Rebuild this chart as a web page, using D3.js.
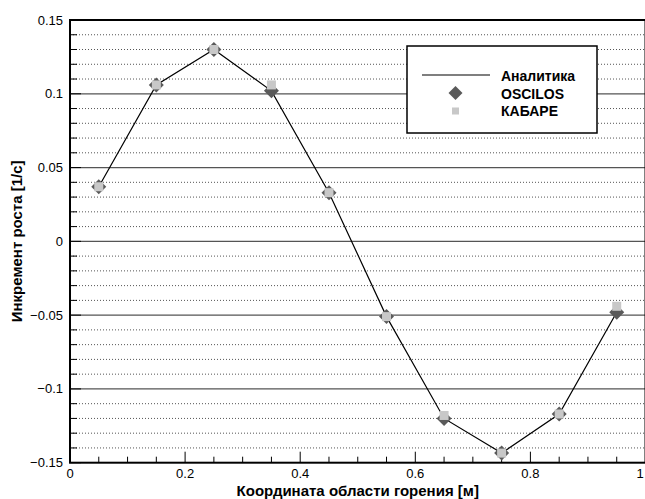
<!DOCTYPE html>
<html>
<head>
<meta charset="utf-8">
<script src="https://cdn.jsdelivr.net/npm/d3@7"></script>
<style>
  html, body { margin: 0; padding: 0; background: #fff; }
  svg { display: block; font-family: "Liberation Sans", Arial, sans-serif; }
</style>
</head>
<body>
<svg id="chart" width="645" height="499"></svg>
<script>
// ---- data ----
const xValues = [0.05, 0.15, 0.25, 0.35, 0.45, 0.55, 0.65, 0.75, 0.85, 0.95];
const analytic = [0.037, 0.106, 0.130, 0.102, 0.033, -0.051, -0.120, -0.1435, -0.117, -0.048];
const oscilos  = [0.037, 0.106, 0.130, 0.102, 0.033, -0.051, -0.120, -0.1435, -0.117, -0.048];
const kabare   = [0.037, 0.106, 0.130, 0.106, 0.033, -0.051, -0.118, -0.1435, -0.117, -0.044];
const yTickLabels = [-0.15, -0.1, -0.05, 0, 0.05, 0.1, 0.15];
const xTickLabels = [0, 0.2, 0.4, 0.6, 0.8, 1];
const legendNames = ["Аналитика", "OSCILOS", "КАБАРЕ"];
const xTitle = "Координата области горения [м]";
const yTitle = "Инкремент роста [1/с]";

const svg = d3.select("#chart");
const L = 70, R = 645.5, T = 20, B = 462.7;
const x = d3.scaleLinear().domain([0, 1]).range([L, R]);
const y = d3.scaleLinear().domain([-0.15, 0.15]).range([B, T]);

// minor dotted grid every 0.01
const minor = d3.range(-15, 16).map(i => i / 100).filter(v => Math.abs(Math.round(v * 100) % 5) !== 0);
svg.append("g").selectAll("line").data(minor).join("line")
  .attr("x1", L).attr("x2", R)
  .attr("y1", d => y(d)).attr("y2", d => y(d))
  .attr("stroke", "#555").attr("stroke-width", 1).attr("stroke-dasharray", "1,2");

// major grid lines at 0.05
const majorGrid = yTickLabels.filter(v => v > -0.15 && v < 0.15);
svg.append("g").selectAll("line").data(majorGrid).join("line")
  .attr("x1", L).attr("x2", R)
  .attr("y1", d => y(d)).attr("y2", d => y(d))
  .attr("stroke", "#555").attr("stroke-width", 1.3);

// frame
svg.append("rect").attr("x", L).attr("y", T).attr("width", R - L).attr("height", B - T)
  .attr("fill", "none").attr("stroke", "#000").attr("stroke-width", 2);

// y ticks (inward)
const yMinorTicks = d3.range(-15, 16).map(i => i / 100);
svg.append("g").selectAll("line").data(yMinorTicks).join("line")
  .attr("x1", L).attr("x2", d => L + (Math.abs(Math.round(d * 100)) % 5 === 0 ? 11 : 7))
  .attr("y1", d => y(d)).attr("y2", d => y(d))
  .attr("stroke", "#000").attr("stroke-width", 1);

// x ticks (inward)
const xMinorTicks = d3.range(0, 21).map(i => i / 20);
svg.append("g").selectAll("line").data(xMinorTicks).join("line")
  .attr("x1", d => x(d)).attr("x2", d => x(d))
  .attr("y1", B).attr("y2", d => B - (Math.round(d * 20) % 4 === 0 ? 11 : 6))
  .attr("stroke", "#000").attr("stroke-width", 1);

// tick labels
svg.append("g").selectAll("text").data(yTickLabels).join("text")
  .attr("x", L - 7).attr("y", d => y(d)).attr("dy", "0.35em")
  .attr("text-anchor", "end").attr("font-size", 13).attr("fill", "#000")
  .text(d => d3.format("")(d));
svg.append("g").selectAll("text").data(xTickLabels).join("text")
  .attr("x", d => Math.min(x(d), 640)).attr("y", B + 15)
  .attr("text-anchor", "middle").attr("font-size", 13).attr("fill", "#000")
  .text(d => d3.format("")(d));

// axis titles
svg.append("text").attr("x", (L + R) / 2).attr("y", 496)
  .attr("text-anchor", "middle").attr("font-size", 15).attr("font-weight", "bold")
  .text(xTitle);
svg.append("text").attr("transform", `translate(22, ${(T + B) / 2}) rotate(-90)`)
  .attr("text-anchor", "middle").attr("font-size", 15).attr("font-weight", "bold")
  .text(yTitle);

// analytic line
const line = d3.line().x((d, i) => x(xValues[i])).y(d => y(d));
svg.append("path").datum(analytic).attr("d", line)
  .attr("fill", "none").attr("stroke", "#000").attr("stroke-width", 1.2);

// OSCILOS diamonds
const diamond = "M0,-7.5L7.5,0L0,7.5L-7.5,0Z";
svg.append("g").selectAll("path").data(oscilos).join("path")
  .attr("transform", (d, i) => `translate(${x(xValues[i])},${y(d)})`)
  .attr("d", diamond).attr("fill", "#5a5a5a");

// KABARE squares
svg.append("g").selectAll("rect").data(kabare).join("rect")
  .attr("x", (d, i) => x(xValues[i]) - 4.5).attr("y", d => y(d) - 4.5)
  .attr("width", 9).attr("height", 9).attr("fill", "#c8c8c8");

// legend
const lg = svg.append("g");
lg.append("rect").attr("x", 407).attr("y", 46).attr("width", 190).attr("height", 87)
  .attr("fill", "#fff").attr("stroke", "#000").attr("stroke-width", 1.5);
lg.append("line").attr("x1", 422).attr("x2", 490).attr("y1", 75).attr("y2", 75)
  .attr("stroke", "#000").attr("stroke-width", 1.2);
lg.append("path").attr("transform", "translate(455.5,93)").attr("d", "M0,-7L7,0L0,7L-7,0Z").attr("fill", "#5a5a5a");
lg.append("rect").attr("x", 452).attr("y", 107.5).attr("width", 7).attr("height", 7).attr("fill", "#c8c8c8");
lg.selectAll("text").data(legendNames).join("text")
  .attr("x", 501).attr("y", (d, i) => 76 + i * 17.7).attr("dy", "0.35em")
  .attr("font-size", 14).attr("font-weight", "bold").text(d => d);
</script>
</body>
</html>
